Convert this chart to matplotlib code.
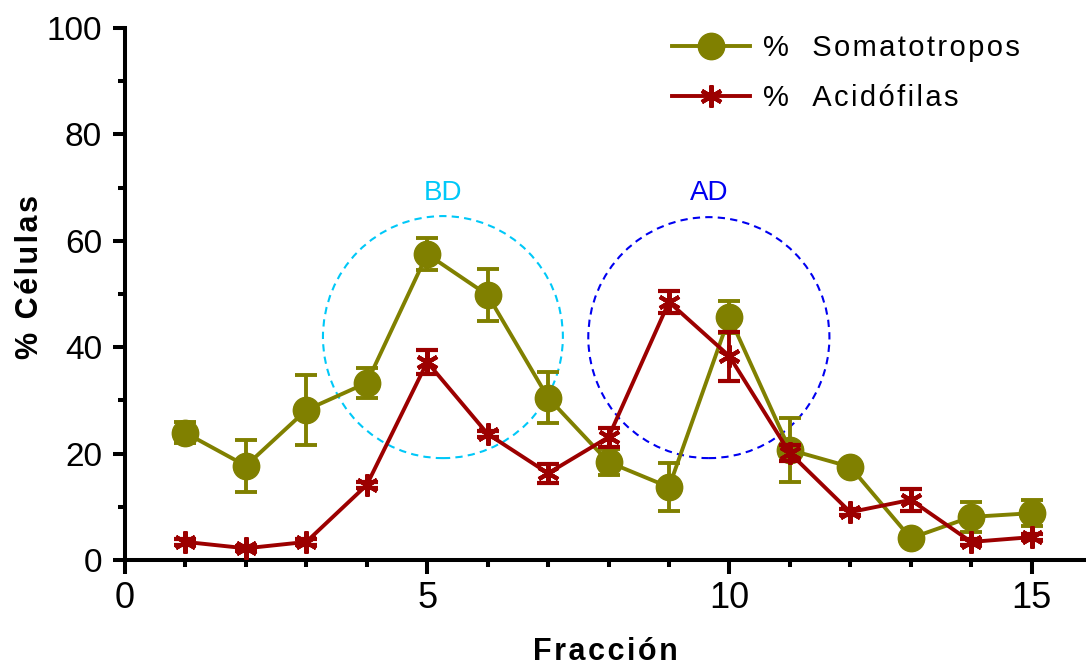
import matplotlib
matplotlib.use("Agg")
import matplotlib.pyplot as plt
from matplotlib.patches import Ellipse
from matplotlib.lines import Line2D

plt.rcParams['font.family'] = ['Liberation Sans', 'DejaVu Sans']

fraccion = [1, 2, 3, 4, 5, 6, 7, 8, 9, 10, 11, 12, 13, 14, 15]
somato = [23.9, 17.7, 28.2, 33.3, 57.5, 49.8, 30.5, 18.4, 13.7, 45.7, 20.7, 17.5, 4.1, 8.1, 8.8]
somato_err = [2.0, 4.9, 6.6, 2.8, 3.0, 4.9, 4.8, 2.5, 4.5, 3.0, 6.0, 0.5, 0.5, 2.8, 2.5]
acido = [3.4, 2.2, 3.4, 14.1, 37.2, 23.7, 16.3, 23.1, 48.5, 38.3, 20.1, 9.0, 11.3, 3.4, 4.3]
acido_err = [0.5, 0.5, 0.5, 0.5, 2.3, 0.5, 1.8, 1.8, 2.0, 4.6, 1.5, 0.5, 2.0, 0.5, 0.5]

olive = '#808000'
red = '#9c0000'
hs = '\u200a'


def spaced(s):
    return hs.join(s)


fig = plt.figure(figsize=(10.86, 6.66), dpi=100)
ax = fig.add_axes([125/1086, 1-560/666, 961/1086, 532/666])

lw = 2.8
ast = (6, 2, 0)
ax.errorbar(fraccion, somato, yerr=somato_err, color=olive, lw=lw, marker='o',
            markersize=19, capsize=8, capthick=lw, elinewidth=lw, zorder=3)
ax.errorbar(fraccion, acido, yerr=acido_err, color=red, lw=lw, marker=ast,
            markersize=16, markeredgewidth=3, capsize=8, capthick=lw, elinewidth=lw,
            zorder=4)

ax.add_patch(Ellipse((5.26, 41.9), 3.97, 45.5, fill=False, ls=(0, (3.5, 2.5)), lw=1.5,
                     edgecolor='#00c8f8', zorder=2))
ax.add_patch(Ellipse((9.66, 41.8), 3.99, 45.3, fill=False, ls=(0, (3.5, 2.5)), lw=1.5,
                     edgecolor='#0000f0', zorder=2))
ax.text(5.26, 69, 'BD', color='#00c8f8', fontsize=20, ha='center', va='center')
ax.text(9.66, 69, 'AD', color='#0000f0', fontsize=20, ha='center', va='center')

ax.set_xlim(0, 15.9)
ax.set_ylim(0, 100)
ax.set_xticks([0, 5, 10, 15])
ax.set_xticks([1, 2, 3, 4, 6, 7, 8, 9, 11, 12, 13, 14], minor=True)
ax.set_yticks([0, 20, 40, 60, 80, 100])
ax.set_yticks([10, 30, 50, 70, 90], minor=True)

for s in ['top', 'right']:
    ax.spines[s].set_visible(False)
for s in ['left', 'bottom']:
    ax.spines[s].set_linewidth(2.9)

ax.tick_params(axis='both', which='both', direction='out', width=2.9)
ax.tick_params(axis='x', which='major', length=10, pad=5, labelsize=26)
ax.tick_params(axis='y', which='major', length=8.5, pad=8, labelsize=24)
ax.tick_params(axis='x', which='minor', length=5)
ax.tick_params(axis='y', which='minor', length=5)

ax.set_ylabel(spaced('% Células'), fontsize=22, fontweight='bold')
ax.yaxis.set_label_coords((45 - 125) / 961, (560 - 277) / 532)
ax.set_xlabel(spaced('Fracción'), fontsize=22, fontweight='bold', labelpad=15)

handles = [
    Line2D([], [], color=olive, lw=lw, marker='o', markersize=19),
    Line2D([], [], color=red, lw=lw, marker=ast, markersize=16, markeredgewidth=3),
]
labels = [spaced('%  Somatotropos'), spaced('%  Acidófilas')]
fig.legend(handles, labels, loc='upper left', bbox_to_anchor=(672/1086, 1-34/666),
           frameon=False, fontsize=21, handlelength=2.67, handletextpad=0.45,
           labelspacing=0.75, borderaxespad=0, borderpad=0)

fig.savefig('out.png', dpi=100)
